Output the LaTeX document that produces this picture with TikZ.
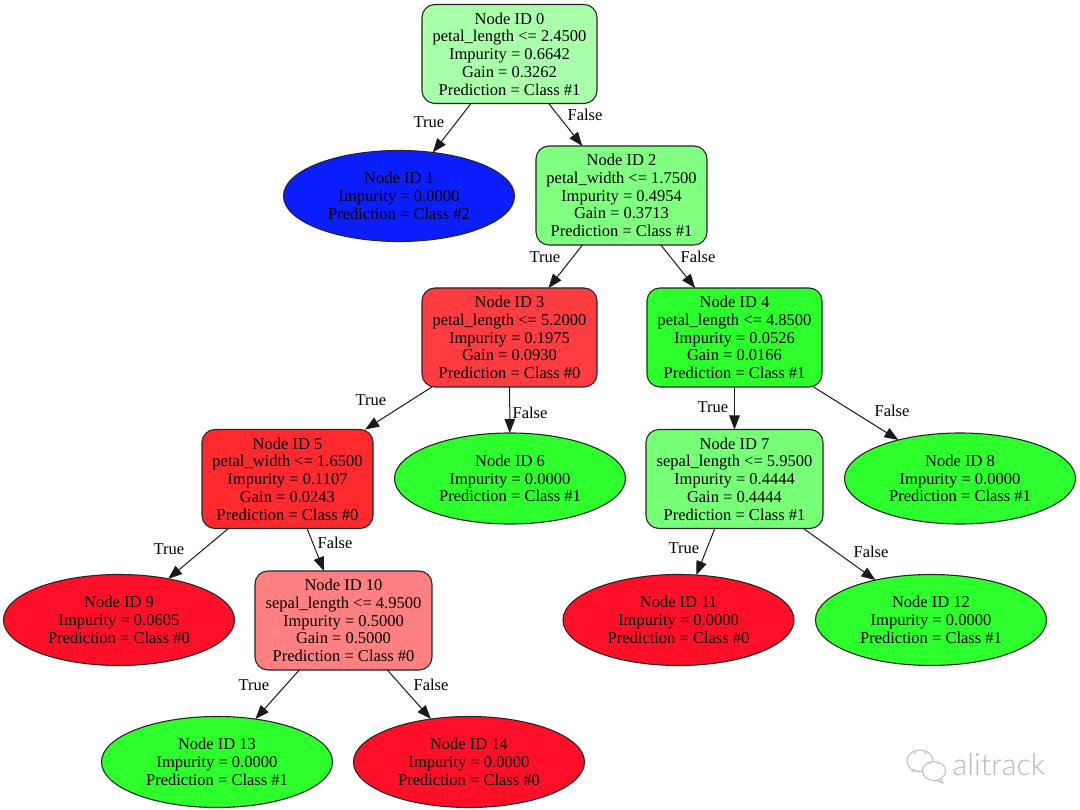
\documentclass[tikz,border=0pt]{standalone}
\usepackage{fontspec}
\setmainfont{Liberation Serif}
\newfontfamily\markfont{Lato Light}
\usetikzlibrary{shapes}
\usetikzlibrary{arrows.meta}
\definecolor{cl0}{HTML}{AAFFAA}
\definecolor{cl1}{HTML}{0A1EFF}
\definecolor{cl2}{HTML}{80FF80}
\definecolor{cl3}{HTML}{FF3C40}
\definecolor{cl4}{HTML}{2CFF2C}
\definecolor{cl5}{HTML}{FF2A2E}
\definecolor{cl7}{HTML}{78FF78}
\definecolor{cl9}{HTML}{FF1028}
\definecolor{cl10}{HTML}{FF8080}
\definecolor{markc}{HTML}{B8B8B8}
\tikzset{
    splitbox/.style = {rectangle, rounded corners=13pt, draw=black!85, line width=1.1pt, align=center,
        minimum width=#1, minimum height=99pt, inner sep=0pt, outer sep=0pt, font=\fontsize{16.5}{17.75}\selectfont},
    leaf/.style = {ellipse, draw=black!85, line width=1.1pt, align=center,
        minimum width=231pt, minimum height=91pt, inner sep=0pt, outer sep=0pt, font=\fontsize{16.5}{17.75}\selectfont},
    edgen/.style = {-{Triangle[length=14pt,width=10.5pt]},line width=1pt,black!90},
    elabel/.style = {inner sep=0pt, font=\fontsize{16.5}{17.75}\selectfont},
    bubble/.style = {draw=markc,line width=0.9pt}
}
\begin{document}
\begin{tikzpicture}[x=1pt,y=-1pt]
\useasboundingbox (0,0) rectangle (1080,810);
\node[splitbox=175pt,fill=cl0] at (509.5, 54.0) (n0) {Node ID 0\\petal\_length <= 2.4500\\Impurity = 0.6642\\Gain = 0.3262\\Prediction = Class \#1};
\node[leaf,fill=cl1] at (399.0, 196.0) (n1) {Node ID 1\\Impurity = 0.0000\\Prediction = Class \#2};
\node[splitbox=171pt,fill=cl2] at (621.5, 195.5) (n2) {Node ID 2\\petal\_width <= 1.7500\\Impurity = 0.4954\\Gain = 0.3713\\Prediction = Class \#1};
\node[splitbox=175pt,fill=cl3] at (509.5, 337.5) (n3) {Node ID 3\\petal\_length <= 5.2000\\Impurity = 0.1975\\Gain = 0.0930\\Prediction = Class \#0};
\node[splitbox=175pt,fill=cl4] at (734.5, 337.5) (n4) {Node ID 4\\petal\_length <= 4.8500\\Impurity = 0.0526\\Gain = 0.0166\\Prediction = Class \#1};
\node[splitbox=171pt,fill=cl5] at (287.5, 479.0) (n5) {Node ID 5\\petal\_width <= 1.6500\\Impurity = 0.1107\\Gain = 0.0243\\Prediction = Class \#0};
\node[leaf,fill=cl4] at (510.0, 478.5) (n6) {Node ID 6\\Impurity = 0.0000\\Prediction = Class \#1};
\node[splitbox=177pt,fill=cl7] at (734.5, 479.0) (n7) {Node ID 7\\sepal\_length <= 5.9500\\Impurity = 0.4444\\Gain = 0.4444\\Prediction = Class \#1};
\node[leaf,fill=cl4] at (960.0, 478.5) (n8) {Node ID 8\\Impurity = 0.0000\\Prediction = Class \#1};
\node[leaf,fill=cl9] at (119.0, 620.0) (n9) {Node ID 9\\Impurity = 0.0605\\Prediction = Class \#0};
\node[splitbox=177pt,fill=cl10] at (343.5, 620.5) (n10) {Node ID 10\\sepal\_length <= 4.9500\\Impurity = 0.5000\\Gain = 0.5000\\Prediction = Class \#0};
\node[leaf,fill=cl9] at (678.5, 620.0) (n11) {Node ID 11\\Impurity = 0.0000\\Prediction = Class \#0};
\node[leaf,fill=cl4] at (931.0, 620.0) (n12) {Node ID 12\\Impurity = 0.0000\\Prediction = Class \#1};
\node[leaf,fill=cl4] at (217.0, 762.0) (n13) {Node ID 13\\Impurity = 0.0000\\Prediction = Class \#1};
\node[leaf,fill=cl9] at (469.0, 762.0) (n14) {Node ID 14\\Impurity = 0.0000\\Prediction = Class \#0};
%
\draw[edgen] (n0) -- (n1);
\draw[edgen] (n0) -- (n2);
\draw[edgen] (n2) -- (n3);
\draw[edgen] (n2) -- (n4);
\draw[edgen] (n3) -- (n5);
\draw[edgen] (n3) -- (n6);
\draw[edgen] (n4) -- (n7);
\draw[edgen] (n4) -- (n8);
\draw[edgen] (n5) -- (n9);
\draw[edgen] (n5) -- (n10);
\draw[edgen] (n7) -- (n11);
\draw[edgen] (n7) -- (n12);
\draw[edgen] (n10) -- (n13);
\draw[edgen] (n10) -- (n14);
%
\node[elabel] at (429, 122) (t1) {True};
\node[elabel] at (585, 115) (f2) {False};
\node[elabel] at (545, 257) (t3) {True};
\node[elabel] at (698, 257) (f4) {False};
\node[elabel] at (371, 400) (t5) {True};
\node[elabel] at (530, 413) (f6) {False};
\node[elabel] at (713, 407) (t7) {True};
\node[elabel] at (892, 411) (f8) {False};
\node[elabel] at (169, 549) (t9) {True};
\node[elabel] at (335, 543) (f10) {False};
\node[elabel] at (684, 548) (t11) {True};
\node[elabel] at (871, 552) (f12) {False};
\node[elabel] at (254, 685) (t13) {True};
\node[elabel] at (431, 685) (f14) {False};
% watermark
\draw[bubble] (920,761) ellipse (13 and 11);
\draw[bubble] (925.5,771) -- (912,771) -- (915,769.5);
\draw[bubble,fill=white] (934,771) ellipse (11.5 and 9.5);
\draw[bubble] (941,779) -- (943,783) -- (937,780.5);
\fill[markc] (915,753) circle (1) (925,753) circle (1) (930,763) circle (1) (938,763) circle (1);
\node[font=\markfont\fontsize{30.5}{32}\selectfont,text=markc,inner sep=0pt] at (999, 765) (mark) {alitrack};
\end{tikzpicture}
\end{document}
